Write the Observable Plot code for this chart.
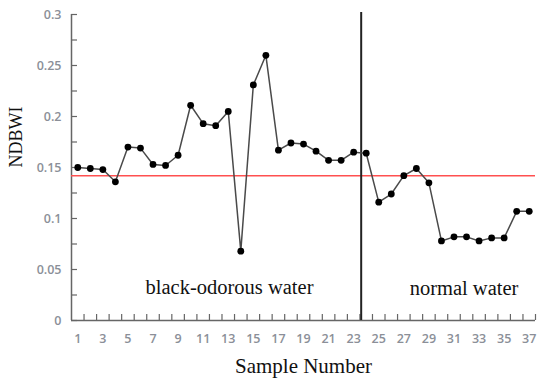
<!DOCTYPE html>
<html>
<head>
<meta charset="utf-8">
<script src="https://cdn.jsdelivr.net/npm/d3@7"></script>
<script src="https://cdn.jsdelivr.net/npm/@observablehq/plot@0.6"></script>
<style>
  html, body { margin: 0; padding: 0; background: #fff; }
  #chart { width: 550px; height: 379px; }
</style>
</head>
<body>
<div id="chart"></div>
<script>
// ---- data ----
const sampleNumbers = d3.range(1, 38);
const ndbwi = [0.150, 0.149, 0.148, 0.136, 0.170, 0.169, 0.153, 0.152, 0.162, 0.211,
               0.193, 0.191, 0.205, 0.068, 0.231, 0.260, 0.167, 0.174, 0.173, 0.166,
               0.157, 0.157, 0.165, 0.164, 0.116, 0.124, 0.142, 0.149, 0.135, 0.078,
               0.082, 0.082, 0.078, 0.081, 0.081, 0.107, 0.107];
const threshold = 0.142;
const dividerAt = 23.6;
const dividerTop = 0.302;
const yMajorTicks = [0, 0.05, 0.1, 0.15, 0.2, 0.25, 0.3];
const yMinorTicks = [0.025, 0.075, 0.125, 0.175, 0.225, 0.275];
const xLabelTicks = d3.range(1, 38, 2);
const xBoundaryTicks = d3.range(1.5, 38, 1);
const xDomain = [0.5, 37.5];
const yDomain = [0, 0.3];
const regionLabels = ["black-odorous water", "normal water"];
const regionLabelX = [13.1, 31.8];
const regionLabelY = [0.026, 0.025];
const xTitle = "Sample Number";
const yTitle = "NDBWI";

const points = sampleNumbers.map((s, i) => ({sample: s, value: ndbwi[i]}));
const regions = regionLabels.map((t, i) => ({text: t, x: regionLabelX[i], y: regionLabelY[i]}));

const axisColor = "#666666";
const labelColor = "#8b8f98";
const tickFont = "'Open Sans', sans-serif";
const serif = "'Liberation Serif', 'Times New Roman', serif";

const chart = Plot.plot({
  width: 550,
  height: 379,
  marginLeft: 71,
  marginRight: 15,
  marginTop: 14,
  marginBottom: 59,
  x: {domain: xDomain},
  y: {domain: yDomain},
  marks: [
    // y axis labels
    Plot.axisY({ticks: yMajorTicks, tickSize: 0, tickPadding: 10, tickFormat: d => String(d),
      fill: labelColor, fontFamily: tickFont, fontSize: 12.5, fontWeight: 600, label: null}),
    // x axis labels
    Plot.axisX({ticks: xLabelTicks, tickSize: 0, tickPadding: 14, tickFormat: d => String(d),
      fill: labelColor, fontFamily: tickFont, fontSize: 12.5, fontWeight: 600, label: null}),
    // axis lines
    Plot.ruleX([xDomain[0]], {stroke: axisColor, strokeWidth: 1.5}),
    Plot.ruleY([yDomain[0]], {stroke: axisColor, strokeWidth: 1.5}),
    // inward ticks (short rules via insets)
    Plot.ruleY(yMajorTicks.concat(yMinorTicks), {stroke: axisColor, strokeWidth: 1.2, insetRight: 458}),
    Plot.ruleX(xBoundaryTicks, {stroke: axisColor, strokeWidth: 1.2, insetTop: 300}),
    // threshold
    Plot.ruleY([threshold], {stroke: "#ff5050", strokeWidth: 1.5}),
    // divider
    Plot.ruleX([dividerAt], {y1: 0, y2: dividerTop, stroke: "#222", strokeWidth: 2}),
    // series
    Plot.line(points, {x: "sample", y: "value", stroke: "#4a4a4a", strokeWidth: 1.5}),
    Plot.dot(points, {x: "sample", y: "value", fill: "#000", r: 3.4}),
    // region labels
    Plot.text(regions, {x: "x", y: "y", text: "text", textAnchor: "middle", lineAnchor: "bottom",
      fontFamily: serif, fontSize: 20.5, fill: "#111"}),
    // titles
    Plot.text([xTitle], {frameAnchor: "bottom", dy: 46, lineAnchor: "middle", fontFamily: serif, fontSize: 21, fill: "#111"}),
    Plot.text([yTitle], {frameAnchor: "left", dx: -55, rotate: -90, lineAnchor: "middle", fontFamily: serif, fontSize: 18, fill: "#111"})
  ]
});
document.getElementById("chart").appendChild(chart);
</script>
</body>
</html>
